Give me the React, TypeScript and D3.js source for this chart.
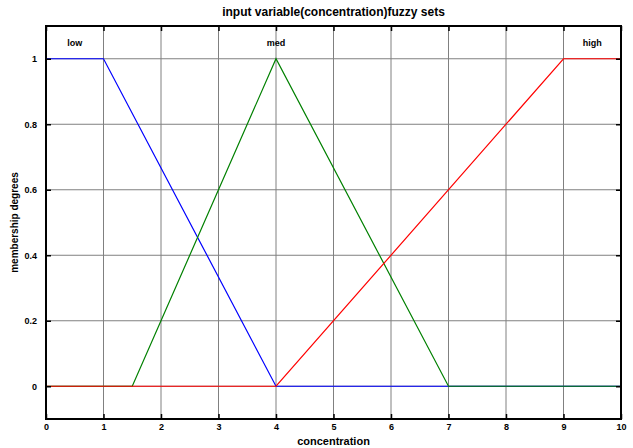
// Fuzzy membership functions for the "concentration" input variable
import React, { useEffect, useRef } from 'react';
import * as d3 from 'd3';

const setNames = ['low', 'med', 'high'];
const setColors = ['#0000ff', '#008000', '#ff0000'];
const setLabelX = [0.5, 4, 9.5];
// breakpoints of each membership function
const lowX = [0, 1, 4, 10];
const lowY = [1, 1, 0, 0];
const medX = [0, 1.5, 4, 7, 10];
const medY = [0, 0, 1, 0, 0];
const highX = [0, 4, 9, 10];
const highY = [0, 0, 1, 1];
const xTicks = [0, 1, 2, 3, 4, 5, 6, 7, 8, 9, 10];
const yTicks = [0, 0.2, 0.4, 0.6, 0.8, 1];

const App: React.FC = () => {
  const svgRef = useRef<SVGSVGElement>(null);

  useEffect(() => {
    if (!svgRef.current) return;
    const svg = d3.select(svgRef.current);
    svg.selectAll('*').remove();

    const width = 633;
    const height = 448;
    const margin = { top: 26, right: 12, bottom: 29, left: 46 };
    const innerW = width - margin.left - margin.right;
    const innerH = height - margin.top - margin.bottom;
    const font = '"Liberation Sans", Arial, sans-serif';

    const g = svg.append('g').attr('transform', `translate(${margin.left},${margin.top})`);

    const x = d3.scaleLinear().domain([0, 10]).range([0, innerW]);
    const y = d3.scaleLinear().domain([-0.1, 1.1]).range([innerH, 0]);

    // сетка
    g.append('g')
      .selectAll('line')
      .data(xTicks)
      .enter()
      .append('line')
      .attr('x1', (d) => x(d))
      .attr('x2', (d) => x(d))
      .attr('y1', 0)
      .attr('y2', innerH)
      .attr('stroke', '#808080')
      .attr('stroke-width', 1);

    g.append('g')
      .selectAll('line')
      .data(yTicks)
      .enter()
      .append('line')
      .attr('x1', 0)
      .attr('x2', innerW)
      .attr('y1', (d) => y(d))
      .attr('y2', (d) => y(d))
      .attr('stroke', '#808080')
      .attr('stroke-width', 1);

    // кривые принадлежности
    const series = [
      lowX.map((v, i) => [v, lowY[i]]),
      medX.map((v, i) => [v, medY[i]]),
      highX.map((v, i) => [v, highY[i]]),
    ];
    const line = d3.line<number[]>()
      .x((d) => x(d[0]))
      .y((d) => y(d[1]));

    series.forEach((s, i) => {
      g.append('path')
        .datum(s)
        .attr('fill', 'none')
        .attr('stroke', setColors[i])
        .attr('stroke-width', 1.2)
        .attr('d', line);
    });

    // подписи множеств
    g.append('g')
      .selectAll('text')
      .data(setNames)
      .enter()
      .append('text')
      .attr('x', (d, i) => x(setLabelX[i]))
      .attr('y', y(1.05))
      .attr('dy', '0.35em')
      .attr('text-anchor', 'middle')
      .attr('font-family', font)
      .attr('font-weight', 'bold')
      .attr('font-size', 9)
      .text((d) => d);

    // рамка
    g.append('rect')
      .attr('x', 0)
      .attr('y', 0)
      .attr('width', innerW)
      .attr('height', innerH)
      .attr('fill', 'none')
      .attr('stroke', '#000')
      .attr('stroke-width', 2);

    // оси
    const styleAxis = (sel: d3.Selection<SVGGElement, unknown, null, undefined>) => {
      sel.select('.domain').remove();
      sel.selectAll('line').attr('stroke', '#000').attr('stroke-width', 1.5);
      sel.selectAll('text')
        .attr('font-family', font)
        .attr('font-weight', 'bold')
        .attr('font-size', 9)
        .attr('fill', '#000');
    };

    g.append('g')
      .attr('transform', `translate(0,${innerH})`)
      .call(d3.axisBottom(x).tickValues(xTicks).tickSize(-5).tickPadding(5).tickFormat(d3.format('d')))
      .call(styleAxis);

    g.append('g')
      .call(d3.axisTop(x).tickValues(xTicks).tickSize(-5).tickFormat(() => ''))
      .call(styleAxis);

    g.append('g')
      .call(d3.axisLeft(y).tickValues(yTicks).tickSize(-5).tickPadding(9).tickFormat((d) => String(+d)))
      .call(styleAxis);

    g.append('g')
      .attr('transform', `translate(${innerW},0)`)
      .call(d3.axisRight(y).tickValues(yTicks).tickSize(-5).tickFormat(() => ''))
      .call(styleAxis);

    // заголовки
    svg.append('text')
      .attr('x', margin.left + innerW / 2)
      .attr('y', 16)
      .attr('text-anchor', 'middle')
      .attr('font-family', font)
      .attr('font-weight', 'bold')
      .attr('font-size', 12)
      .text('input variable(concentration)fuzzy sets');

    svg.append('text')
      .attr('x', margin.left + innerW / 2)
      .attr('y', 445)
      .attr('text-anchor', 'middle')
      .attr('font-family', font)
      .attr('font-weight', 'bold')
      .attr('font-size', 11)
      .text('concentration');

    svg.append('text')
      .attr('transform', `translate(18,${margin.top + innerH / 2}) rotate(-90)`)
      .attr('text-anchor', 'middle')
      .attr('font-family', font)
      .attr('font-weight', 'bold')
      .attr('font-size', 10)
      .text('membership degrees');
  }, []);

  return (
    <div style={{ position: 'absolute', left: 0, top: 0 }}>
      <svg ref={svgRef} width={633} height={448} style={{ display: 'block', background: '#fff' }} />
    </div>
  );
};

export default App;
